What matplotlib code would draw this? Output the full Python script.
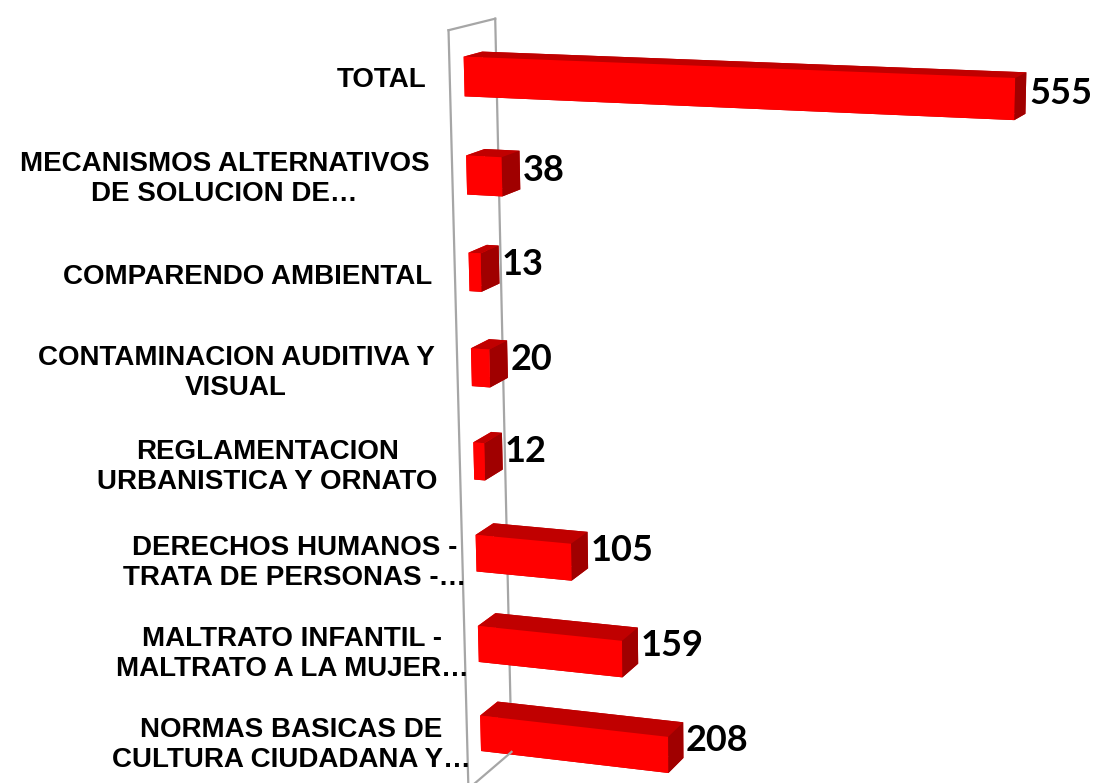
import numpy as np
import matplotlib
matplotlib.use("Agg")
import matplotlib.pyplot as plt

# categories top to bottom, as in the chart
categorias = [
    "TOTAL",
    "MECANISMOS ALTERNATIVOS\nDE SOLUCION DE…",
    "COMPARENDO AMBIENTAL",
    "CONTAMINACION AUDITIVA Y\nVISUAL",
    "REGLAMENTACION\nURBANISTICA Y ORNATO",
    "DERECHOS HUMANOS -\nTRATA DE PERSONAS -…",
    "MALTRATO INFANTIL -\nMALTRATO A LA MUJER…",
    "NORMAS BASICAS DE\nCULTURA CIUDADANA Y…",
]
valores = [555, 38, 13, 20, 12, 105, 159, 208]

n = len(categorias)
filas = np.arange(n)[::-1]          # TOTAL goes on top
alto = 0.4                          # bar thickness inside each band
y0, prof = 0.3, 0.4                 # bar depth inside the wall

fig = plt.figure(figsize=(10.95, 7.83), dpi=100)
ax = fig.add_axes([0.2728, -0.1407, 0.822, 1.149], projection="3d",
                  computed_zorder=False)
ax.set_proj_type("persp", focal_length=0.59)
ax.view_init(elev=14, azim=-72)
ax.set_xlim(0, 600)
ax.set_ylim(0, 1)
ax.set_zlim(0, n)
ax.set_box_aspect((627, 120, 818), zoom=1.082)
ax.set_axis_off()

# side wall (only its edges are drawn)
gris = "#A6A6A6"
ax.plot([0, 0], [1, 1], [0, n], color=gris, lw=1.6, zorder=1)
ax.plot([0, 0], [0, 0], [0, n], color=gris, lw=1.6, zorder=5)
ax.plot([0, 0], [0, 1], [n, n], color=gris, lw=1.6, zorder=5)
ax.plot([0, 0], [0, 1], [0, 0], color=gris, lw=1.6, zorder=5)

# per face colours: -z, +z, -y, +y, -x, +x
caras = ["#C00000", "#C00000", "#FF0000", "#C00000", "#FF0000", "#A00000"]
colores = caras * n
ax.bar3d(np.zeros(n), np.full(n, y0), filas + 0.5 - alto / 2,
         valores, np.full(n, prof), np.full(n, alto),
         color=colores, shade=False, zorder=2)

for f, v, cat in zip(filas, valores, categorias):
    zc = f + 0.5
    ax.text(v + 3, y0 + prof, zc, str(v), ha="left", va="center",
            fontsize=26, fontweight="bold", family="Lato", zorder=6)
    # truncated labels (ending in …) run up to the wall
    larga = max(cat.split("\n"), key=len)
    gap = -4 if larga.endswith("…") else 25
    ax.text(-gap, 0, zc, cat, ha="right", va="center",
            multialignment="center", fontsize=20, fontweight="bold",
            family="Liberation Sans", zorder=6)

fig.savefig("out.png", dpi=100)
